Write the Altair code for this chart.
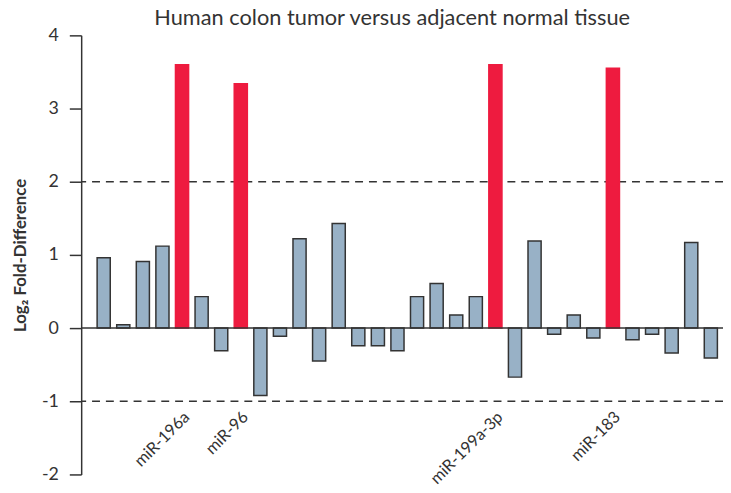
import altair as alt
import pandas as pd

values = [0.96, 0.045, 0.91, 1.12, 3.60, 0.43, -0.31, 3.34, -0.92, -0.11,
          1.22, -0.45, 1.43, -0.24, -0.24, -0.31, 0.43, 0.61, 0.18, 0.43,
          3.60, -0.67, 1.19, -0.085, 0.18, -0.135, 3.55, -0.16, -0.085, -0.34,
          1.17, -0.41]
labels = ["", "", "", "", "miR-196a", "", "", "miR-96", "", "",
          "", "", "", "", "", "", "", "", "", "",
          "miR-199a-3p", "", "", "", "", "", "miR-183", "", "", "",
          "", ""]
y_ticks = [-2, -1, 0, 1, 2, 3, 4]
threshold_lines = [2, -1]

df = pd.DataFrame({
    "idx": list(range(1, len(values) + 1)),
    "value": values,
    "label": labels,
})
df["hit"] = df["label"] != ""

FONT = "Lato"
DARK = "#333333"

x_enc = alt.X("idx:O", axis=None,
              scale=alt.Scale(paddingInner=0.33, paddingOuter=0.55, align=0.74))

bars = alt.Chart(df).mark_bar(strokeWidth=1.5).encode(
    x=x_enc,
    y=alt.Y("value:Q",
            scale=alt.Scale(domain=[-2, 4], nice=False, zero=False),
            axis=alt.Axis(values=y_ticks, labelExpr="toString(datum.value)",
                          title="Log₂ Fold-Difference",
                          grid=False, tickSize=12, labelPadding=11,
                          titlePadding=12, labelFontSize=18, titleFontSize=17,
                          titleFontWeight="bold", labelFont=FONT, titleFont=FONT,
                          labelColor=DARK, titleColor=DARK, domainColor=DARK,
                          tickColor=DARK, domainWidth=1.5, tickWidth=1.5)),
    color=alt.condition("datum.hit", alt.value("#ee1b3f"), alt.value("#98b1c6")),
    stroke=alt.condition("datum.hit", alt.value("#ee1b3f"), alt.value(DARK)),
)

zero = alt.Chart(pd.DataFrame({"y": [0]})).mark_rule(
    color=DARK, strokeWidth=1.5).encode(y="y:Q")

dashes = alt.Chart(pd.DataFrame({"y": threshold_lines})).mark_rule(
    color=DARK, strokeWidth=1.5, strokeDash=[8, 6]).encode(y="y:Q")

text = alt.Chart(df).transform_filter("datum.label != ''").mark_text(
    angle=315, align="right", baseline="middle", fontSize=16.5, font=FONT,
    color=DARK, dx=7).encode(
    x=x_enc,
    y=alt.datum(-1.25),
    text="label:N",
)

chart = alt.layer(dashes, bars, zero, text).properties(
    width=649, height=444,
    title=alt.TitleParams("Human colon tumor versus adjacent normal tissue",
                          fontSize=22, fontWeight="normal", font=FONT,
                          color=DARK, offset=-4, dx=-10),
    autosize=alt.AutoSizeParams(type="none"),
    padding={"left": 74, "top": 25, "right": 0, "bottom": 8},
).configure_view(stroke=None)

chart.save("out.html", embed_options={"renderer": "svg", "actions": False})
